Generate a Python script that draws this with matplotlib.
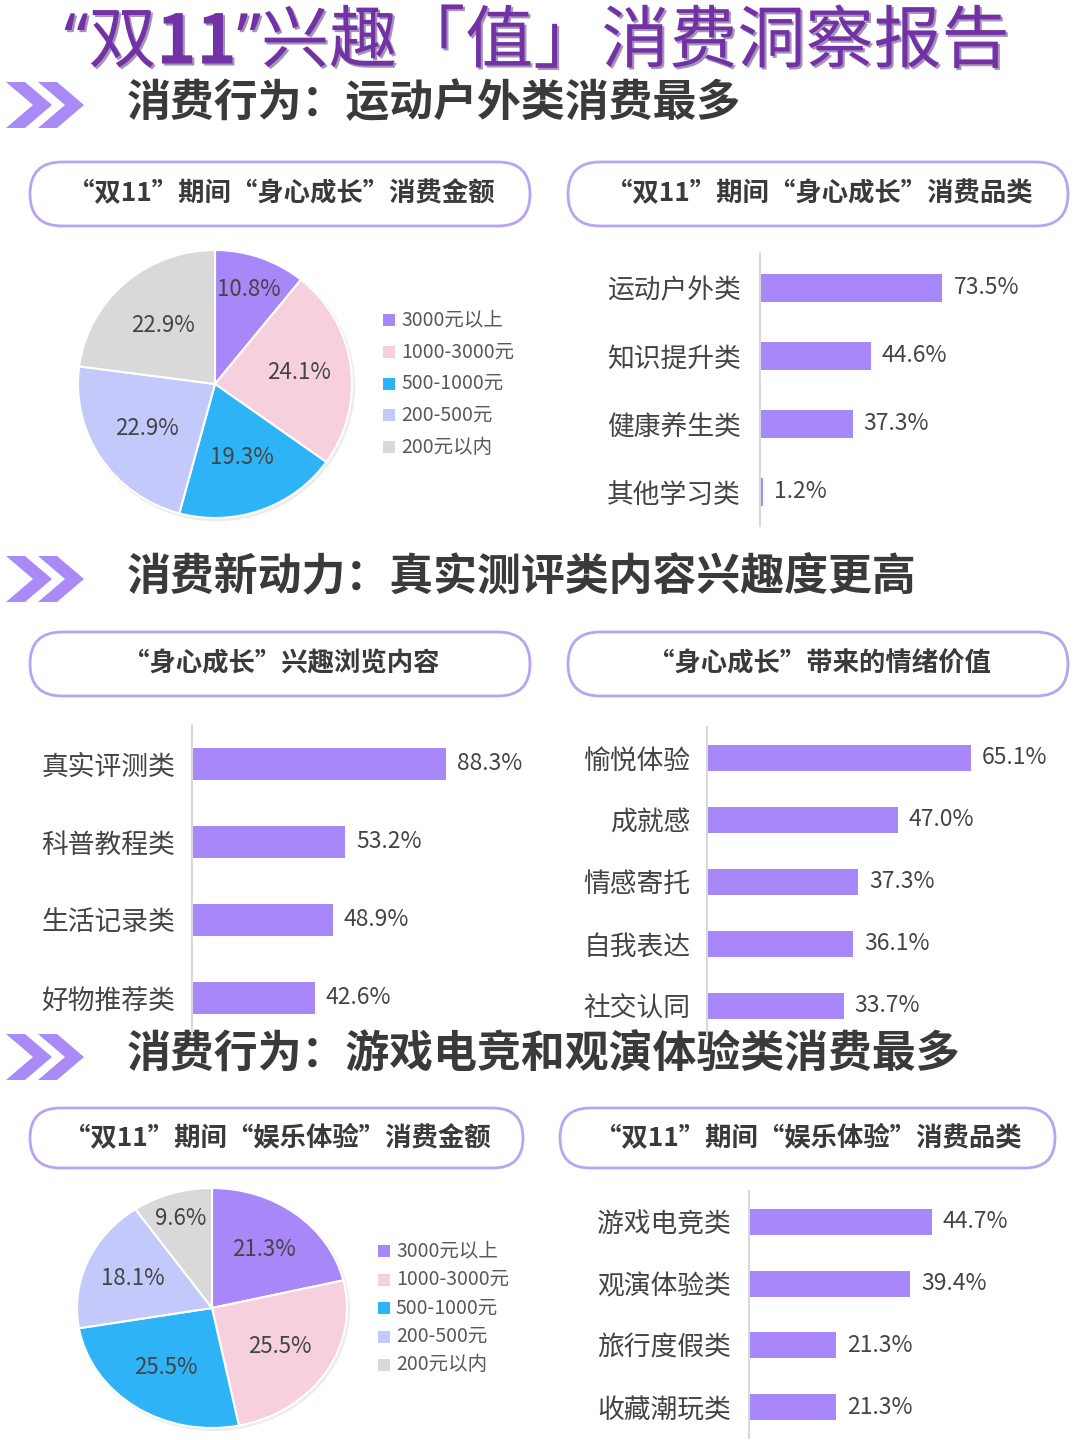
import matplotlib
matplotlib.use('Agg')
import numpy as np
import matplotlib.pyplot as plt
import matplotlib.patheffects as pe
from matplotlib.patches import FancyBboxPatch, Polygon, Rectangle, Ellipse

plt.rcParams['font.family'] = ['Noto Sans CJK SC', 'DejaVu Sans']

W, H = 1080, 1440

# texts
title_parts = ['“双', '11', '”兴趣「值」消费洞察报告']
sections = ['消费行为：运动户外类消费最多',
            '消费新动力：真实测评类内容兴趣度更高',
            '消费行为：游戏电竞和观演体验类消费最多']
pills = ['“双11”期间“身心成长”消费金额', '“双11”期间“身心成长”消费品类',
         '“身心成长”兴趣浏览内容', '“身心成长”带来的情绪价值',
         '“双11”期间“娱乐体验”消费金额', '“双11”期间“娱乐体验”消费品类']

# data
amount_labels = ['3000元以上', '1000-3000元', '500-1000元', '200-500元', '200元以内']
growth_amount = [10.8, 24.1, 19.3, 22.9, 22.9]
fun_amount = [21.3, 25.5, 25.5, 18.1, 9.6]

growth_cats = ['运动户外类', '知识提升类', '健康养生类', '其他学习类']
growth_vals = [73.5, 44.6, 37.3, 1.2]
browse_cats = ['真实评测类', '科普教程类', '生活记录类', '好物推荐类']
browse_vals = [88.3, 53.2, 48.9, 42.6]
emotion_cats = ['愉悦体验', '成就感', '情感寄托', '自我表达', '社交认同']
emotion_vals = [65.1, 47.0, 37.3, 36.1, 33.7]
fun_cats = ['游戏电竞类', '观演体验类', '旅行度假类', '收藏潮玩类']
fun_vals = [44.7, 39.4, 21.3, 21.3]

pie_colors = ['#A887F8', '#F6D0DC', '#2DB3F6', '#C3C9FA', '#D9D9D9']
bar_color = '#A888F8'
purple = '#7232A6'
dark = '#3A3A3A'
text_c = '#444444'

fig = plt.figure(figsize=(W / 100, H / 100), dpi=100)
bg = fig.add_axes([0, 0, 1, 1])
bg.set_xlim(0, W)
bg.set_ylim(H, 0)
bg.axis('off')

# title, in pieces so that "11" can be bold and the quotes narrow
shadow = [pe.SimplePatchShadow(offset=(1.5, -1.5), shadow_rgbFace='#3b1260', alpha=0.45), pe.Normal()]
prev = bg.text(64, 44, title_parts[0], ha='left', va='center', fontsize=49, color=purple,
               family=['Noto Sans', 'Noto Sans CJK SC'], path_effects=shadow)
for part, wt, fam in zip(title_parts[1:], ['bold', 'normal'],
                         [['Noto Sans CJK SC'], ['Noto Sans', 'Noto Sans CJK SC']]):
    prev = bg.annotate(part, xy=(1, 0.5), xycoords=prev, ha='left', va='center', fontsize=49,
                       color=purple, fontweight=wt, family=fam, path_effects=shadow)


def chevrons(cy):
    h, w, t, step = 46, 46, 19, 32
    for x0 in (6, 6 + step):
        pts = [(x0, cy - h / 2), (x0 + t, cy - h / 2), (x0 + w, cy), (x0 + t, cy + h / 2),
               (x0, cy + h / 2), (x0 + w - t, cy)]
        bg.add_patch(Polygon(pts, closed=True, color='#A98AF7', lw=0))


def section(text, cy):
    chevrons(cy + 2)
    bg.text(127, cy, text, ha='left', va='center', fontsize=31.6, fontweight='bold', color=dark)


def pill(box, text):
    x0, y0, x1, y1 = box
    h = y1 - y0
    bg.add_patch(FancyBboxPatch((x0, y0), x1 - x0, h, boxstyle=f'round,pad=0,rounding_size={h / 2}',
                                fc='white', ec='#B9A3F2', lw=2))
    bg.text((x0 + x1) / 2 + 1, (y0 + y1) / 2, text, ha='center', va='center', fontsize=19,
            fontweight='bold', color=dark)


def pie(vals, cx, cy, rx, ry, dists):
    ax = fig.add_axes([(cx - rx * 1.05) / W, 1 - (cy + ry * 1.05) / H, 2.1 * rx / W, 2.1 * ry / H])
    ax.add_patch(Ellipse((0.012, -0.015), 2.02, 2.02, fc='#ECECEC', lw=0, zorder=0))
    wedges, _ = ax.pie(vals, colors=pie_colors, startangle=90, counterclock=False,
                       wedgeprops=dict(edgecolor='white', linewidth=1.5))
    ax.set_aspect('auto')
    ax.set_xlim(-1.05, 1.05)
    ax.set_ylim(-1.05, 1.05)
    for w, v, d in zip(wedges, vals, dists):
        a = np.deg2rad((w.theta1 + w.theta2) / 2)
        ax.text(d * np.cos(a), d * np.sin(a), f'{v:.1f}%', ha='center', va='center',
                fontsize=16, color=text_c)


def legend(x, y, sp):
    for i, (lab, c) in enumerate(zip(amount_labels, pie_colors)):
        bg.add_patch(Rectangle((x, y + i * sp - 6), 12, 12, color=c, lw=0))
        bg.text(x + 18, y + i * sp, lab, ha='left', va='center', fontsize=14, color='#595959')


def bars(cats, vals, left, right, top, sp, ppp, bh, pad):
    n = len(cats)
    y0 = top - sp / 2
    ax = fig.add_axes([left / W, 1 - (y0 + n * sp) / H, (right - left) / W, n * sp / H])
    b = ax.barh(range(n), vals, height=bh / sp, color=bar_color)
    ax.set_ylim(n - 0.5, -0.5)
    ax.set_xlim(0, (right - left) / ppp)
    ax.set_yticks(range(n))
    ax.set_yticklabels(cats, fontsize=19.3, color=text_c)
    ax.tick_params(axis='y', length=0, pad=pad)
    ax.set_xticks([])
    for s in ['top', 'right', 'bottom']:
        ax.spines[s].set_visible(False)
    ax.spines['left'].set_color('#D9D9D9')
    ax.spines['left'].set_linewidth(1.5)
    ax.bar_label(b, labels=[f'{v:.1f}%' for v in vals], padding=8, fontsize=16.5, color=text_c)
    ax.patch.set_alpha(0)
    return ax


# section 1
section(sections[0], 103)
pill((30, 162, 530, 226), pills[0])
pill((568, 162, 1068, 226), pills[1])
pie(growth_amount, 215, 384, 137, 134, [0.75, 0.62, 0.58, 0.6, 0.58])
legend(383, 320, 31.8)
bars(growth_cats, growth_vals, 760, 1060, 288, 68, 2.48, 28, 14)

# section 2
section(sections[1], 577)
pill((30, 632, 530, 696), pills[2])
pill((568, 632, 1068, 696), pills[3])
bars(browse_cats, browse_vals, 192, 530, 764, 78, 2.876, 32, 12)
bars(emotion_cats, emotion_vals, 707, 1070, 758, 62, 4.055, 26, 12)

# section 3
section(sections[2], 1055)
pill((30, 1108, 523, 1168), pills[4])
pill((560, 1108, 1055, 1168), pills[5])
pie(fun_amount, 212, 1308, 135, 120, [0.62, 0.6, 0.6, 0.64, 0.78])
legend(378, 1251, 28.5)
bars(fun_cats, fun_vals, 749, 1060, 1222, 61.7, 4.09, 26, 13)

fig.savefig('out.png', dpi=100)
